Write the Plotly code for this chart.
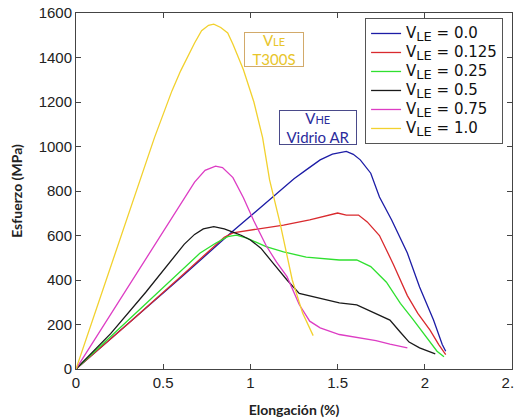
import plotly.graph_objects as go

# ---- data ----
x_00 = [0, 0.3, 0.6, 0.9, 1.1, 1.25, 1.32, 1.4, 1.47, 1.52, 1.55, 1.59, 1.63, 1.69, 1.74, 1.81, 1.9, 1.97, 2.05, 2.1, 2.12]
y_00 = [0, 205, 410, 620, 755, 855, 895, 940, 966, 975, 978, 965, 940, 880, 773, 670, 521, 369, 220, 110, 80]

x_0125 = [0, 0.3, 0.6, 0.85, 0.9, 1.0, 1.1, 1.19, 1.34, 1.45, 1.5, 1.55, 1.62, 1.67, 1.74, 1.82, 1.9, 1.96, 2.03, 2.08, 2.12]
y_0125 = [0, 205, 415, 592, 612, 625, 635, 647, 670, 690, 701, 692, 692, 661, 600, 470, 330, 250, 175, 110, 65]

x_025 = [0, 0.3, 0.5, 0.71, 0.8, 0.87, 0.92, 0.98, 1.09, 1.19, 1.32, 1.42, 1.51, 1.61, 1.69, 1.78, 1.86, 1.93, 2.01, 2.07, 2.11]
y_025 = [0, 220, 365, 520, 565, 595, 602, 588, 550, 526, 503, 495, 490, 490, 460, 390, 295, 225, 144, 80, 55]

x_05 = [0, 0.2, 0.4, 0.55, 0.62, 0.68, 0.73, 0.79, 0.85, 0.9, 0.95, 1.0, 1.06, 1.13, 1.21, 1.28, 1.38, 1.51, 1.61, 1.72, 1.8, 1.86, 1.91, 1.97, 2.06]
y_05 = [0, 160, 345, 495, 560, 605, 630, 640, 630, 615, 600, 580, 543, 476, 400, 340, 320, 297, 288, 250, 220, 165, 121, 95, 68]

x_075 = [0, 0.5, 0.6, 0.68, 0.74, 0.8, 0.84, 0.9, 0.96, 1.02, 1.09, 1.15, 1.21, 1.28, 1.34, 1.4, 1.51, 1.63, 1.72, 1.8, 1.9]
y_075 = [0, 620, 740, 840, 893, 912, 905, 860, 770, 665, 555, 480, 415, 290, 215, 185, 155, 140, 128, 112, 95]

x_10 = [0, 0.45, 0.55, 0.6, 0.68, 0.72, 0.76, 0.79, 0.83, 0.87, 0.9, 0.96, 1.02, 1.07, 1.11, 1.17, 1.24, 1.3, 1.36]
y_10 = [0, 1040, 1250, 1340, 1465, 1520, 1545, 1550, 1535, 1510, 1460, 1345, 1200, 1040, 850, 656, 400, 250, 150]

vle_labels = ["0.0", "0.125", "0.25", "0.5", "0.75", "1.0"]
series_x = [x_00, x_0125, x_025, x_05, x_075, x_10]
series_y = [y_00, y_0125, y_025, y_05, y_075, y_10]
colors = ["#1c1ca6", "#d92a2e", "#2fe02f", "#1a1a1a", "#dd3dc4", "#f2d12e"]

x_ticks = [0, 0.5, 1, 1.5, 2, 2.5]
x_tick_labels = ["0", "0.5", "1", "1.5", "2", "2.5"]
y_ticks = [0, 200, 400, 600, 800, 1000, 1200, 1400, 1600]

fig = go.Figure()
for xs, ys, lab, c in zip(series_x, series_y, vle_labels, colors):
    name = ("<span style='font-size:15px'>V<sub><span style='font-size:13px'>LE</span></sub>"
            " = " + lab + "</span>")
    fig.add_trace(go.Scatter(x=xs, y=ys, mode="lines", name=name,
                             line=dict(color=c, width=1.3)))

axis_common = dict(showline=True, mirror="ticks", linecolor="#444", linewidth=1,
                   ticks="inside", ticklen=5, tickcolor="#444", showgrid=False,
                   zeroline=False, automargin=False, ticklabeloverflow="allow",
                   tickfont=dict(family="Liberation Sans", size=15, color="#222"))

# the page body adds an 8px offset, so the figure is 8px smaller than the window
fig.update_layout(
    width=514, height=412,
    margin=dict(l=68, r=10, t=5, b=51),
    paper_bgcolor="white", plot_bgcolor="white",
    xaxis=dict(range=[0, 2.5], tickvals=x_ticks, ticktext=x_tick_labels,
               title=dict(text="<b>Elongación (%)</b>", font=dict(family="Lato", size=14, color="#222")),
               **axis_common),
    yaxis=dict(range=[0, 1600], tickvals=y_ticks,
               title=dict(text="<b>Esfuerzo (MPa)</b>", font=dict(family="Lato", size=14, color="#222")),
               **axis_common),
    legend=dict(x=0.663, y=0.986, xanchor="left", yanchor="top",
                bgcolor="white", bordercolor="#555", borderwidth=1,
                font=dict(family="DejaVu Sans", size=12, color="#111"),
                tracegroupgap=0, itemwidth=30),
    showlegend=True,
)

fig.add_annotation(xref="paper", yref="paper", x=(274 - 76) / 436, y=1 - (49 - 13) / 356,
                   xanchor="center", yanchor="middle",
                   text="V<span style='font-size:11px'>LE</span><br>T300S",
                   showarrow=False, font=dict(family="Lato", size=15, color="#e8c52a"),
                   width=58, height=33,
                   bordercolor="#d2aa6a", borderwidth=1, borderpad=0, bgcolor="white", align="center")
fig.add_annotation(xref="paper", yref="paper", x=(318 - 76) / 436, y=1 - (127 - 13) / 356,
                   xanchor="center", yanchor="middle",
                   text="V<span style='font-size:11px'>HE</span><br>Vidrio AR",
                   showarrow=False, font=dict(family="Lato", size=15, color="#2b2b9c"),
                   width=76, height=33,
                   bordercolor="#4a4a8a", borderwidth=1, borderpad=0, bgcolor="white", align="center")

fig.write_html("out.html")
